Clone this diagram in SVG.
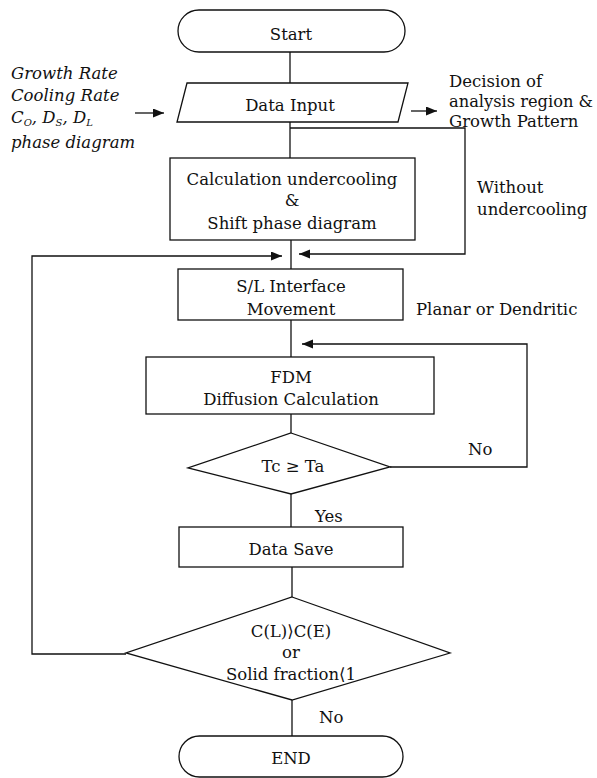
<svg xmlns="http://www.w3.org/2000/svg" width="597" height="778" viewBox="0 0 597 778">
<style>
.s{fill:#fff;stroke:#111;stroke-width:1.3}
.c{fill:none;stroke:#111;stroke-width:1.3}
.t{font-family:"DejaVu Serif","Liberation Serif","DejaVu Sans","Noto Sans CJK KR",serif;font-size:16.5px;fill:#111}
.m{text-anchor:middle}
.i{font-style:italic}
</style>
<defs>
<marker id="ah" markerUnits="userSpaceOnUse" markerWidth="12" markerHeight="10" refX="11" refY="4.5" orient="auto">
<path d="M0,0 L11,4.5 L0,9 z" fill="#111"/>
</marker>
</defs>
<rect width="597" height="778" fill="#fff"/>
<g id="connectors">
<path class="c" d="M290,52 V83"/>
<path class="c" d="M290,122 V158"/>
<path class="c" d="M290,128 H465 V254 H299" marker-end="url(#ah)"/>
<path class="c" d="M291,240 V269"/>
<path class="c" d="M126,654 H32 V256 H282" marker-end="url(#ah)"/>
<path class="c" d="M291,320 V357"/>
<path class="c" d="M390,467 H527 V344 H302" marker-end="url(#ah)"/>
<path class="c" d="M291,414 V433"/>
<path class="c" d="M291,494 V527"/>
<path class="c" d="M292,567 V597"/>
<path class="c" d="M292,700 V736"/>
<path class="c" d="M135,113 H164" marker-end="url(#ah)"/>
<path class="c" d="M411,111 H437" marker-end="url(#ah)"/>
</g>
<g id="start">
<rect class="s" x="178" y="10" width="227" height="42" rx="21"/>
<text class="t m" x="291" y="40">Start</text>
</g>
<g id="data-input">
<polygon class="s" points="187,83 408,83 398,122 177,122"/>
<text class="t m" x="290" y="111">Data Input</text>
</g>
<g id="inputs">
<text class="t i" x="11" y="79">Growth Rate</text>
<text class="t i" x="11" y="101">Cooling Rate</text>
<text class="t i" x="11" y="123">C<tspan font-size="10" dy="3">O</tspan><tspan dy="-3">, D</tspan><tspan font-size="10" dy="3">S</tspan><tspan dy="-3">, D</tspan><tspan font-size="10" dy="3">L</tspan></text>
<text class="t i" x="11" y="148">phase diagram</text>
</g>
<g id="decision-note">
<text class="t" x="449" y="87">Decision of</text>
<text class="t" x="449" y="107" textLength="144" lengthAdjust="spacingAndGlyphs">analysis region &amp;</text>
<text class="t" x="449" y="127">Growth Pattern</text>
</g>
<g id="calc">
<rect class="s" x="170" y="158" width="245" height="82"/>
<text class="t m" x="292" y="185">Calculation undercooling</text>
<text class="t m" x="292" y="206">&amp;</text>
<text class="t m" x="292" y="229">Shift phase diagram</text>
</g>
<g id="without-label">
<text class="t" x="477" y="193">Without</text>
<text class="t" x="477" y="215">undercooling</text>
</g>
<g id="sl-interface">
<rect class="s" x="178" y="269" width="225" height="51"/>
<text class="t m" x="291" y="292">S/L Interface</text>
<text class="t m" x="291" y="315">Movement</text>
</g>
<g id="planar-label">
<text class="t" x="416" y="315">Planar or Dendritic</text>
</g>
<g id="fdm">
<rect class="s" x="146" y="357" width="288" height="57"/>
<text class="t m" x="291" y="383">FDM</text>
<text class="t m" x="291" y="405">Diffusion Calculation</text>
</g>
<g id="tc-decision">
<polygon class="s" points="291,433 390,467 291,494 188,468"/>
<text class="t m" x="293" y="472">Tc ≥ Ta</text>
<text class="t" x="468" y="455">No</text>
<text class="t" x="315" y="522">Yes</text>
</g>
<g id="data-save">
<rect class="s" x="179" y="527" width="224" height="40"/>
<text class="t m" x="291" y="555">Data Save</text>
</g>
<g id="end-decision">
<polygon class="s" points="292,597 450,653 292,700 126,653"/>
<text class="t m" x="291" y="637">C(L)⟩C(E)</text>
<text class="t m" x="291" y="658">or</text>
<text class="t m" x="291" y="680">Solid fraction⟨1</text>
<text class="t" x="319" y="723">No</text>
</g>
<g id="end">
<rect class="s" x="179" y="736" width="224" height="41" rx="20.5"/>
<text class="t m" x="291" y="764">END</text>
</g>
</svg>
